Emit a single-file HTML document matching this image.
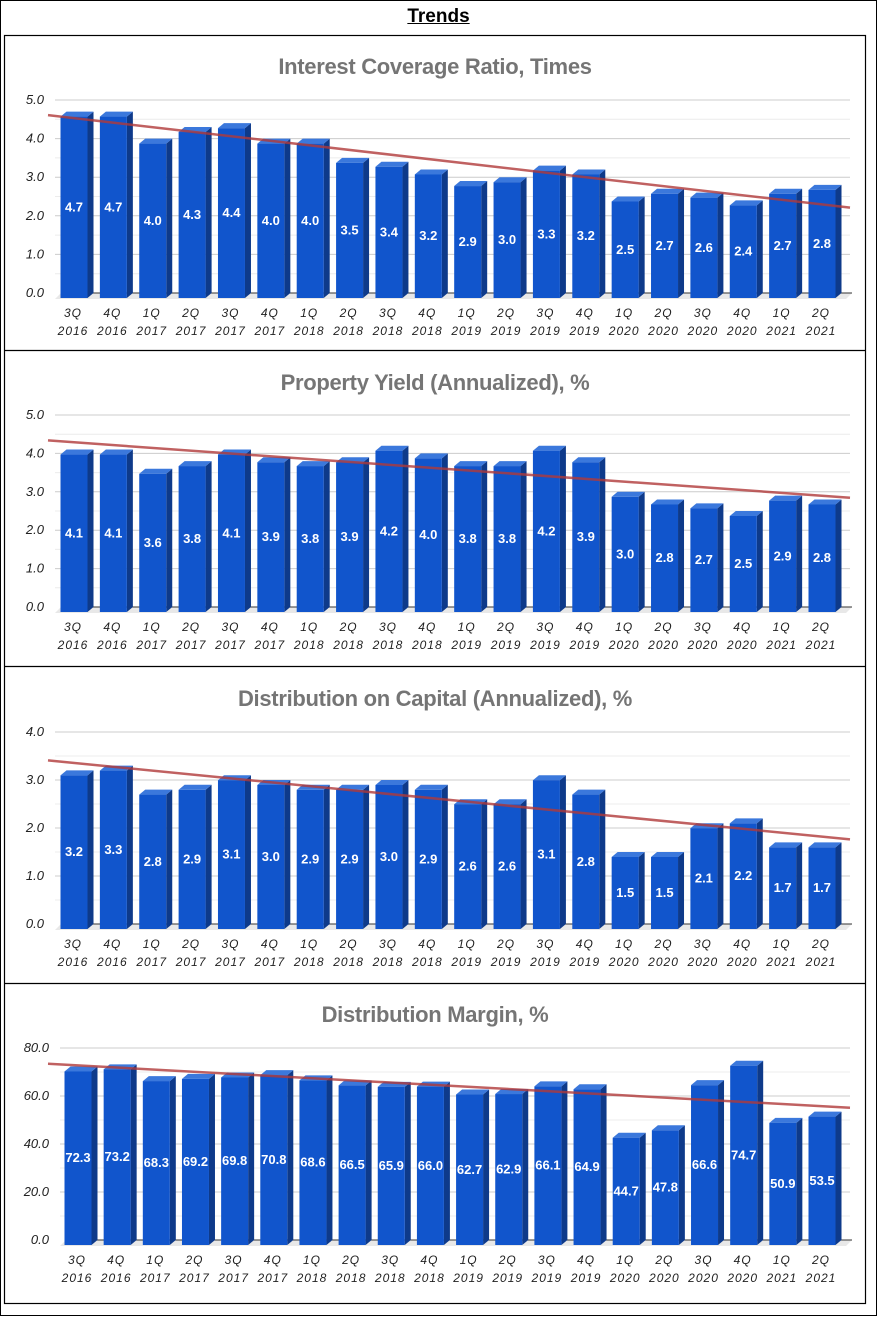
<!DOCTYPE html>
<html><head><meta charset="utf-8">
<style>
body{margin:0;background:#fff;width:880px;height:1317px;overflow:hidden;font-family:"Liberation Sans",sans-serif}
#outer{position:absolute;left:0;top:0;width:875px;height:1314px;border:1px solid #000}
#title{position:absolute;left:0;width:877px;top:6px;text-align:center;font-weight:bold;font-size:19px;text-decoration:underline}
svg{position:absolute;left:0;top:0}
</style></head><body>
<div id="outer"></div>
<div id="title">Trends</div>
<svg id="chart" width="880" height="1317"></svg>
<script>
const categories=["3Q 2016","4Q 2016","1Q 2017","2Q 2017","3Q 2017","4Q 2017","1Q 2018","2Q 2018","3Q 2018","4Q 2018","1Q 2019","2Q 2019","3Q 2019","4Q 2019","1Q 2020","2Q 2020","3Q 2020","4Q 2020","1Q 2021","2Q 2021"];
const icrValues=[4.7,4.7,4.0,4.3,4.4,4.0,4.0,3.5,3.4,3.2,2.9,3.0,3.3,3.2,2.5,2.7,2.6,2.4,2.7,2.8];
const yieldValues=[4.1,4.1,3.6,3.8,4.1,3.9,3.8,3.9,4.2,4.0,3.8,3.8,4.2,3.9,3.0,2.8,2.7,2.5,2.9,2.8];
const docValues=[3.2,3.3,2.8,2.9,3.1,3.0,2.9,2.9,3.0,2.9,2.6,2.6,3.1,2.8,1.5,1.5,2.1,2.2,1.7,1.7];
const marginValues=[72.3,73.2,68.3,69.2,69.8,70.8,68.6,66.5,65.9,66.0,62.7,62.9,66.1,64.9,44.7,47.8,66.6,74.7,50.9,53.5];
const titles=["Interest Coverage Ratio, Times","Property Yield (Annualized), %","Distribution on Capital (Annualized), %","Distribution Margin, %"];
const icrTicks=[0,1,2,3,4,5];
const yieldTicks=[0,1,2,3,4,5];
const docTicks=[0,1,2,3,4];
const marginTicks=[0,20,40,60,80];

const NS="http://www.w3.org/2000/svg";
const svg=document.getElementById('chart');
function mk(tag,attrs,parent,name){const e=document.createElementNS(NS,tag);for(const k in attrs)e.setAttribute(k,attrs[k]);


(parent||svg).appendChild(e);return e;}

mk('rect',{x:4.5,y:35.5,width:861,height:1268,fill:'none',stroke:'#000','stroke-width':1.2},svg,'inner-frame');
[350.5,666.5,983.5].forEach(y=>mk('line',{x1:4,x2:866,y1:y,y2:y,stroke:'#000','stroke-width':1.2},svg,'panel-separator'));

const panels=[
 {vals:icrValues,ticks:icrTicks,max:5,y0:293,ytop:100,title:titles[0],ty:74,ax:55,x0:73,dec:1,name:'interest-coverage'},
 {vals:yieldValues,ticks:yieldTicks,max:5,y0:607,ytop:415,title:titles[1],ty:390,ax:55,x0:73,dec:1,name:'property-yield'},
 {vals:docValues,ticks:docTicks,max:4,y0:924,ytop:732,title:titles[2],ty:706,ax:55,x0:73,dec:1,name:'distribution-on-capital'},
 {vals:marginValues,ticks:marginTicks,max:80,y0:1240,ytop:1048,title:titles[3],ty:1022,ax:60,x0:77,dec:1,name:'distribution-margin'}
];
panels.forEach(p=>{
 const g=mk('g',{},svg,p.name+'-chart');
 const pitch=(821-p.x0)/19;
 const xs=i=>p.x0+i*pitch;
 const ys=v=>p.y0-(p.y0-p.ytop)*v/p.max;
 mk('text',{x:435,y:p.ty,'text-anchor':'middle','font-size':22,'font-weight':'bold',fill:'#757575','letter-spacing':'-0.3'},g,p.name+'-title').textContent=p.title;
 const step=p.ticks[1]-p.ticks[0];
 for(let k=0;k<p.ticks.length-1;k++){
   const mid=p.ticks[k]+step/2;
   mk('line',{x1:p.ax,x2:850,y1:ys(mid),y2:ys(mid),stroke:'#ececec','stroke-width':1},g,'minor-gridline');
 }
 p.ticks.forEach(t=>{
   if(t>0)mk('line',{x1:p.ax,x2:850,y1:ys(t),y2:ys(t),stroke:'#ccc','stroke-width':1},g,'gridline');
   mk('text',{x:p.ax-11,y:ys(t)+4,'text-anchor':'end','font-size':13,'font-style':'italic',fill:'#222'},g,'y-tick-label').textContent=t.toFixed(1);
 });
 mk('polygon',{points:`${p.ax},${p.y0+6} ${p.ax+6},${p.y0} 852,${p.y0} 846,${p.y0+6}`,fill:'#e8e8e8'},g,'floor');
 mk('line',{x1:p.ax+6,x2:852,y1:p.y0,y2:p.y0,stroke:'#333','stroke-width':1},g,'x-axis-line');
 const base=p.y0+5,w=27,d=6,dy=5;
 p.vals.forEach((v,i)=>{
   const cx=xs(i),l=cx-w/2+1,top=base-(p.y0-p.ytop)*v/p.max;
   mk('polygon',{points:`${l+w},${top} ${l+w+d},${top-dy} ${l+w+d},${base-dy} ${l+w},${base}`,fill:'#0e3a8a'},g,'bar-side');
   mk('polygon',{points:`${l},${top} ${l+d},${top-dy} ${l+w+d},${top-dy} ${l+w},${top}`,fill:'#3b78dc'},g,'bar-top');
   mk('rect',{x:l,y:top,width:w,height:base-top,fill:'#1155cc'},g,'bar');
   mk('text',{x:l+w/2,y:(top+base)/2+4,'text-anchor':'middle','font-size':13,'font-weight':'bold',fill:'#fff'},g,'bar-value-label').textContent=v.toFixed(p.dec);
   const parts=categories[i].split(' ');
   mk('text',{x:cx,y:p.y0+24,'text-anchor':'middle','font-size':12,'font-style':'italic',fill:'#222','letter-spacing':'1'},g,'x-tick-label').textContent=parts[0];
   mk('text',{x:cx,y:p.y0+42,'text-anchor':'middle','font-size':12,'font-style':'italic',fill:'#222','letter-spacing':'1'},g,'x-tick-label').textContent=parts[1];
 });
 const n=p.vals.length;let mx=(n-1)/2,my=p.vals.reduce((a,b)=>a+b,0)/n,sxy=0,sxx=0;
 p.vals.forEach((v,i)=>{sxy+=(i-mx)*(v-my);sxx+=(i-mx)*(i-mx);});
 const sl=sxy/sxx;const f=i=>my+sl*(i-mx);
 const i1=(48-p.x0)/pitch,i2=(850-p.x0)/pitch;
 mk('line',{x1:48,y1:ys(f(i1)),x2:850,y2:ys(f(i2)),stroke:'#b03a3a','stroke-opacity':0.8,'stroke-width':2.5},g,'trendline');
});
</script>
</body></html>
